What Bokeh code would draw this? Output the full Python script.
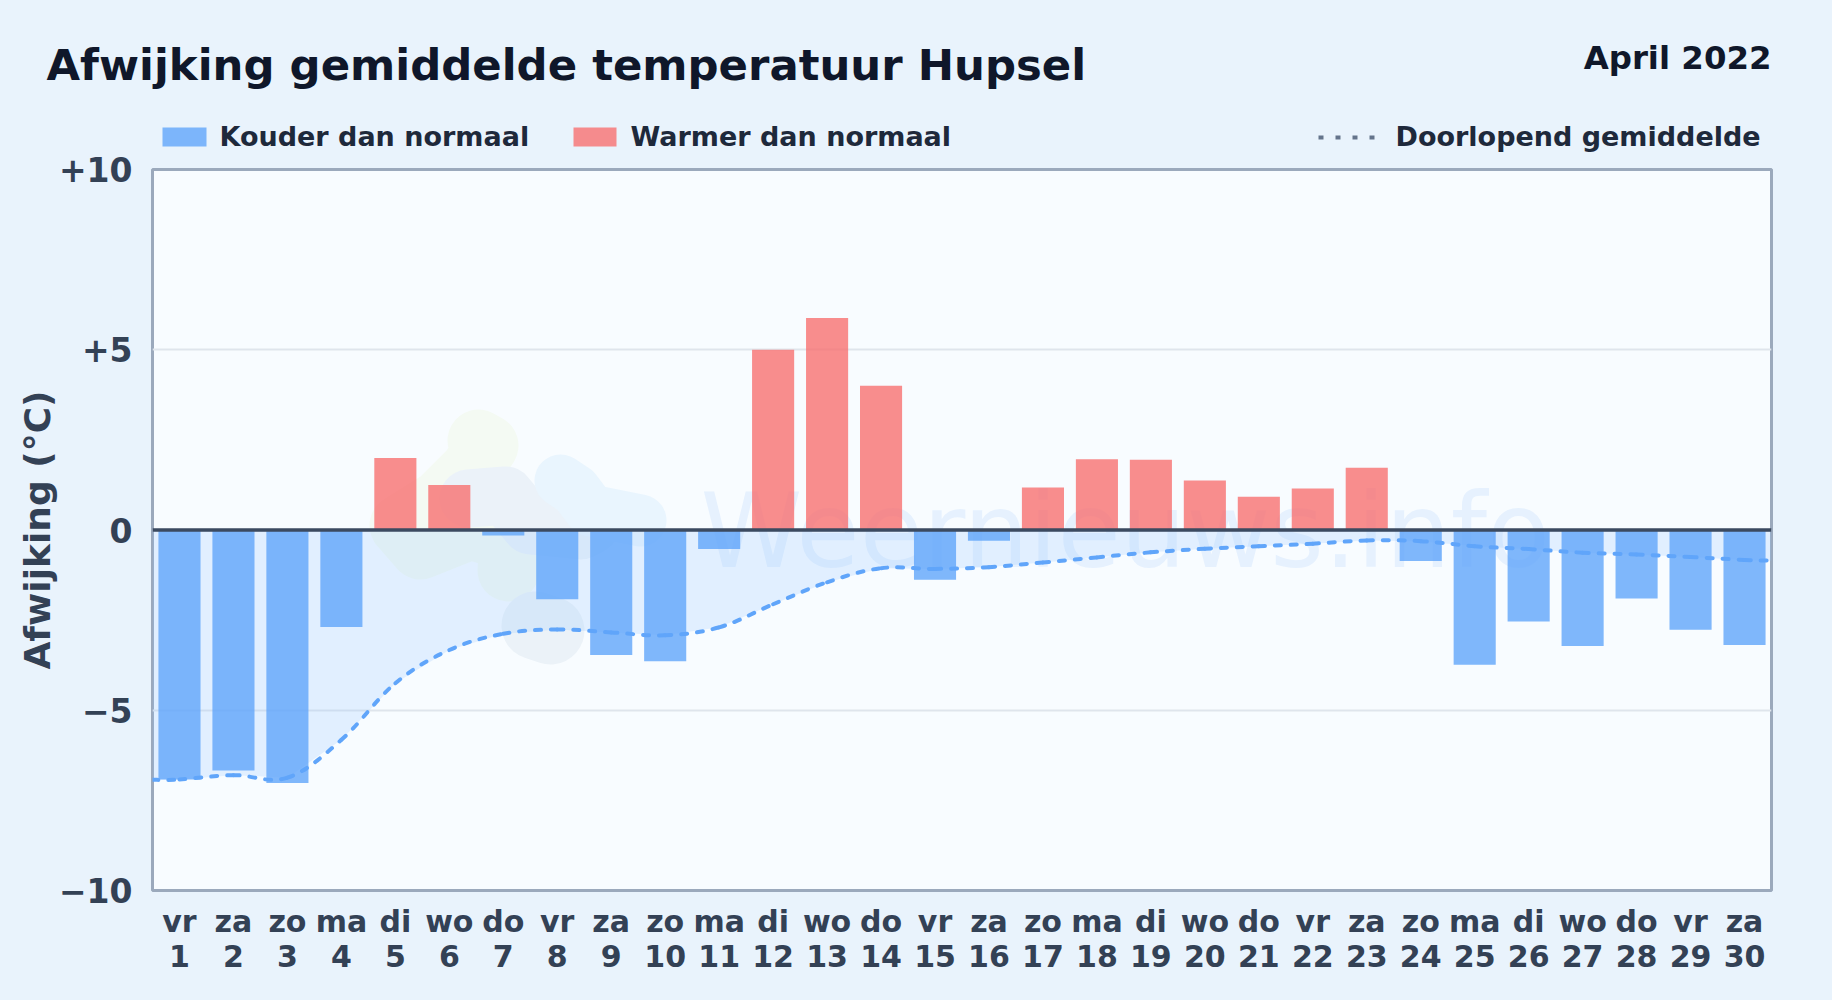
from bokeh.plotting import figure
from bokeh.layouts import column
from bokeh.embed import file_html
from bokeh.resources import INLINE
from bokeh.models import Range1d, FixedTicker, Span
from bokeh.core.properties import value

# ---------- data ----------
days = list(range(1, 31))
weekdays = ["vr","za","zo","ma","di","wo","do","vr","za","zo","ma","di","wo","do","vr",
            "za","zo","ma","di","wo","do","vr","za","zo","ma","di","wo","do","vr","za"]
deviation = [-6.92,-6.67,-7.02,-2.69,2.0,1.25,-0.15,-1.92,-3.47,-3.64,-0.53,5.0,5.88,4.0,-1.38,
             -0.3,1.18,1.96,1.95,1.37,0.92,1.15,1.73,-0.86,-3.74,-2.54,-3.22,-1.9,-2.77,-3.19]
mean_x = [0.5] + days + [30.5]
mean_y = [-6.93,-6.92,-6.8,-6.87,-5.82,-4.25,-3.33,-2.88,-2.76,-2.84,-2.92,-2.7,-2.06,-1.45,-1.06,-1.08,
          -1.03,-0.9,-0.76,-0.62,-0.52,-0.45,-0.38,-0.29,-0.31,-0.45,-0.53,-0.63,-0.68,-0.75,-0.83,-0.85]
y_ticks = [-10,-5,0,5,10]
y_labels = ["\u221210","\u22125","0","+5","+10"]

TITLE = "Afwijking gemiddelde temperatuur Hupsel"
PERIOD = "April 2022"
LEGEND = ["Kouder dan normaal","Warmer dan normaal","Doorlopend gemiddelde"]
WATERMARK = "Weernieuws.info"

FONT = "DejaVu Sans"
BG = "#e9f3fc"; PLOT_BG = "#f8fcff"
BLUE = "#60a5fa"; RED = "#f87171"

W, H = 1832, 1000
HEAD = 153                            # height of the header strip
L, T, FW, FH = 152, 169, 1619, 721    # frame placement on the page

# ---------- header strip: one data unit is one page pixel ----------
h = figure(width=W, height=HEAD, x_range=Range1d(0, W), y_range=Range1d(HEAD, 0),
           x_axis_type=None, y_axis_type=None, output_backend="svg", toolbar_location=None,
           min_border=0, min_border_left=0, min_border_right=0, min_border_top=0, min_border_bottom=0,
           frame_align=False)
h.grid.visible = False
h.outline_line_color = None
h.background_fill_color = BG
h.border_fill_color = BG

def lab(txt, x, y, size, color, align="left"):
    # the renderer sets this baseline about 0.4 em low, so it is raised by as much
    h.text([x], [y-0.4*size], text=[txt], text_font=value(FONT), text_font_style="bold",
           text_font_size=f"{size}px", text_color=color, text_align=align, text_baseline="alphabetic")

lab(TITLE, 46, 81.5, 43.4, "#0f172a")
lab(PERIOD, 1771, 70, 32.4, "#0f172a", "right")
h.quad(left=[162], right=[206], top=[127], bottom=[146], fill_color=BLUE, fill_alpha=0.8, line_color=None)
h.quad(left=[573], right=[616], top=[127], bottom=[146], fill_color=RED, fill_alpha=0.8, line_color=None)
lab(LEGEND[0], 219, 147, 27, "#1e293b")
lab(LEGEND[1], 630, 147, 27, "#1e293b")
lab(LEGEND[2], 1395, 147, 27, "#1e293b")
h.line([1318, 1374], [137, 137], line_color="#64748b", line_width=4, line_dash="5 12")

# ---------- chart ----------
p = figure(width=W, height=H-HEAD, x_range=Range1d(0.5,30.5), y_range=Range1d(-10,10),
           output_backend="svg", toolbar_location=None,
           frame_width=FW, frame_height=FH, frame_align=False,
           min_border_left=L, min_border_top=T-HEAD, min_border_right=W-L-FW, min_border_bottom=H-T-FH)
p.background_fill_color = PLOT_BG
p.border_fill_color = BG
p.outline_line_color = "#9ba9bc"
p.outline_line_width = 3

p.xgrid.visible = False
p.ygrid.ticker = FixedTicker(ticks=y_ticks)
p.ygrid.grid_line_color = "#dfe5ec"
p.ygrid.grid_line_width = 2

ya = p.yaxis[0]
ya.ticker = FixedTicker(ticks=y_ticks)
ya.major_label_overrides = dict(zip(y_ticks, y_labels))
ya.axis_line_color = None
ya.major_tick_line_color = None
ya.minor_tick_line_color = None
ya.major_label_text_font = FONT
ya.major_label_text_font_style = "bold"
ya.major_label_text_font_size = "33px"
ya.major_label_text_line_height = 0.8
ya.major_label_text_color = "#334155"
ya.major_label_standoff = 14
ya.axis_label = "Afwijking (\u00b0C)"
ya.axis_label_text_font = FONT
ya.axis_label_text_font_style = "bold"
ya.axis_label_text_font_size = "36px"
ya.axis_label_text_color = "#334155"
ya.axis_label_standoff = -2

xa = p.xaxis[0]
xa.ticker = FixedTicker(ticks=days)
xa.major_label_overrides = {d: f"{w}\n{d}" for d, w in zip(days, weekdays)}
xa.axis_line_color = None
xa.major_tick_line_color = None
xa.minor_tick_line_color = None
xa.major_label_text_font = FONT
xa.major_label_text_font_style = "bold"
xa.major_label_text_font_size = "30px"
xa.major_label_text_line_height = 1.0
xa.major_label_text_color = "#334155"
xa.major_label_standoff = 7

# helpers turning page pixels into the chart's own coordinates (faint logo only)
def dx(px): return (px-L)/(FW/30)+0.5
def dy(py): return (T+FH/2-py)/(FH/20)

blobs = [
    ("#f4faf3", 62, [(478,440),(487,445),(470,470),(440,500),(400,525),(420,548),(470,528),(510,540),(508,570)]),
    ("#ebf2f9", 58, [(468,498),(505,495),(530,525),(580,530),(590,525)]),
    ("#e9f5fe", 52, [(560,480),(575,490),(590,510),(640,520)]),
    ("#ebf2f8", 68, [(535,625),(550,630)]),
]
for col, lw, pts in blobs:
    p.line([dx(a) for a, b in pts], [dy(b) for a, b in pts], line_color=col, line_width=lw,
           line_cap="round", line_join="round")

p.text([dx(700)], [dy(530)], text=[WATERMARK], text_font=value(FONT), text_font_style="normal",
       text_font_size="103px", text_color="#3b82f6", text_alpha=0.09,
       text_align="left", text_baseline="alphabetic")

# running-mean area
p.varea(mean_x, mean_y, [0]*len(mean_y), fill_color="#93c5fd", fill_alpha=0.22)

# bars
neg = [(d,v) for d,v in zip(days,deviation) if v < 0]
pos = [(d,v) for d,v in zip(days,deviation) if v >= 0]
p.vbar([d for d,v in neg], 0.78, 0, [v for d,v in neg], fill_color=BLUE, fill_alpha=0.8, line_color=None)
p.vbar([d for d,v in pos], 0.78, [v for d,v in pos], 0, fill_color=RED, fill_alpha=0.8, line_color=None)

# running-mean curve: one cubic segment between consecutive readings
K = 0.18
n = len(mean_x)
x0, y0, x1, y1, cx0, cy0, cx1, cy1 = [], [], [], [], [], [], [], []
for i in range(n-1):
    a = max(i-1, 0); b = min(i+2, n-1)
    x0.append(mean_x[i]); y0.append(mean_y[i]); x1.append(mean_x[i+1]); y1.append(mean_y[i+1])
    cx0.append(mean_x[i] + K*(mean_x[i+1]-mean_x[a])); cy0.append(mean_y[i] + K*(mean_y[i+1]-mean_y[a]))
    cx1.append(mean_x[i+1] - K*(mean_x[b]-mean_x[i])); cy1.append(mean_y[i+1] - K*(mean_y[b]-mean_y[i]))
p.bezier(x0, y0, x1, y1, cx0, cy0, cx1, cy1, line_color=BLUE, line_width=4,
         line_dash="6 10", line_cap="round")

p.add_layout(Span(location=0, dimension="width", line_color="#3b4a60", line_width=3.6))

page = column(h, p, spacing=0)
html = file_html(page, INLINE)
html = html.replace("</head>", f"<style>html,body{{background:{BG};}}</style></head>")
open("out.html", "w").write(html)
